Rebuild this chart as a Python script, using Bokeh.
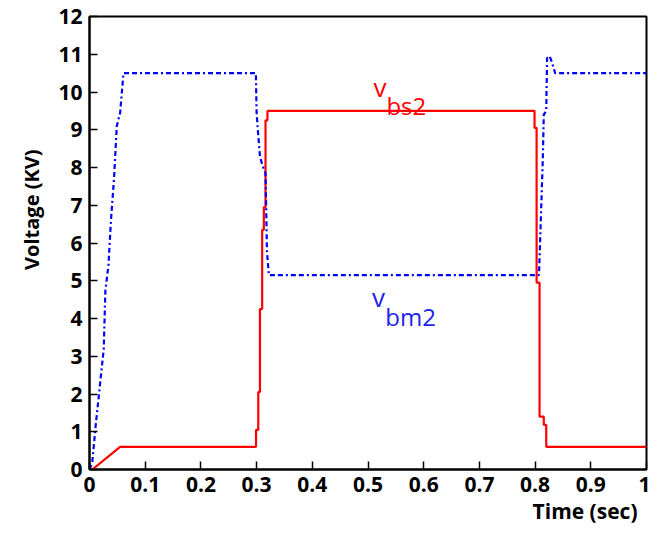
from bokeh.plotting import figure
from bokeh.models import Range1d, FixedTicker, Title
from bokeh.core.properties import value
from bokeh.embed import file_html
from bokeh.resources import INLINE

# ---- data ----
t_bs2 = [0, 0.005, 0.055, 0.299, 0.299, 0.303, 0.303, 0.306, 0.306, 0.310, 0.310,
         0.313, 0.313, 0.316, 0.316, 0.3195, 0.3195, 0.799, 0.799, 0.8027, 0.8027,
         0.808, 0.808, 0.8156, 0.8156, 0.820, 0.820, 1.0]
v_bs2 = [0, 0, 0.6, 0.6, 1.05, 1.05, 2.05, 2.05, 4.25, 4.25, 6.35,
         6.35, 6.95, 6.95, 9.25, 9.25, 9.5, 9.5, 9.05, 9.05, 4.95,
         4.95, 1.4, 1.4, 1.18, 1.18, 0.6, 0.6]

t_bm2 = [0, 0.005, 0.011, 0.0256, 0.0285, 0.034, 0.0385, 0.044, 0.049, 0.055, 0.061,
         0.2987, 0.300, 0.3027, 0.306, 0.3105, 0.316, 0.318, 0.3185, 0.322,
         0.807, 0.8138, 0.8156, 0.820, 0.8215, 0.826, 0.830, 0.836, 1.0]
v_bm2 = [0, 0.2, 1.15, 3.2, 4.75, 5.4, 6.6, 7.7, 9.1, 9.45, 10.5,
         10.5, 9.45, 8.9, 8.3, 8.05, 7.85, 6.3, 5.8, 5.15,
         5.15, 8.2, 9.4, 9.5, 10.9, 10.95, 10.8, 10.5, 10.5]

x_ticks = [0, 0.1, 0.2, 0.3, 0.4, 0.5, 0.6, 0.7, 0.8, 0.9, 1.0]
x_tick_labels = ["0", "0.1", "0.2", "0.3", "0.4", "0.5", "0.6", "0.7", "0.8", "0.9", "1"]
y_ticks = list(range(0, 13))

FONT = "Open Sans"

p = figure(width=650, height=527, output_backend="svg", toolbar_location=None,
           x_range=Range1d(0, 1), y_range=Range1d(0, 12),
           min_border_left=89, min_border_right=4, min_border_top=16, min_border_bottom=58)
p.xgrid.visible = False
p.ygrid.visible = False
p.outline_line_color = "black"
p.outline_line_width = 2
p.outline_line_alpha = 1.0

for ax in (p.xaxis[0], p.yaxis[0]):
    ax.axis_line_width = 2
    ax.axis_line_color = "black"
    ax.major_tick_in = 8
    ax.major_tick_out = 0
    ax.minor_tick_in = 0
    ax.minor_tick_out = 0
    ax.major_tick_line_color = "black"
    ax.major_tick_line_width = 1.5
    ax.major_label_text_font = FONT
    ax.major_label_text_font_style = "bold"
    ax.major_label_text_font_size = "21px"
    ax.major_label_text_color = "black"

p.xaxis.ticker = FixedTicker(ticks=x_ticks)
p.xaxis.major_label_overrides = {t: l for t, l in zip(x_ticks, x_tick_labels)}
p.xaxis.major_label_standoff = 7
p.yaxis.ticker = FixedTicker(ticks=y_ticks)
p.yaxis.major_label_standoff = 7

p.line(t_bs2, v_bs2, line_color="#ff0000", line_width=2.2)
p.line(t_bm2, v_bm2, line_color="#0000ff", line_width=2.2, line_dash="5 3 5 3 2 3")

# series labels
p.text(x=[0.51], y=[10.13], text=["v"], text_color="#ff0000", text_font=value(FONT),
       text_font_size="26px", text_baseline="alphabetic", text_align="left")
p.text(x=[0.533], y=[9.64], text=["bs2"], text_color="#ff0000", text_font=value(FONT),
       text_font_size="24px", text_baseline="alphabetic", text_align="left")
p.text(x=[0.507], y=[4.56], text=["v"], text_color="#2222ee", text_font=value(FONT),
       text_font_size="26px", text_baseline="alphabetic", text_align="left")
p.text(x=[0.531], y=[4.04], text=["bm2"], text_color="#2222ee", text_font=value(FONT),
       text_font_size="24px", text_baseline="alphabetic", text_align="left")

# axis titles
p.add_layout(Title(text="Voltage (KV)", align="right", offset=133, standoff=22,
                   text_font=FONT, text_font_style="bold", text_font_size="20px",
                   text_color="black"), "left")
p.add_layout(Title(text="Time (sec)", align="right", offset=9, standoff=0,
                   text_font=FONT, text_font_style="bold", text_font_size="21px",
                   text_color="black"), "below")

open("out.html", "w").write(file_html(p, INLINE))
